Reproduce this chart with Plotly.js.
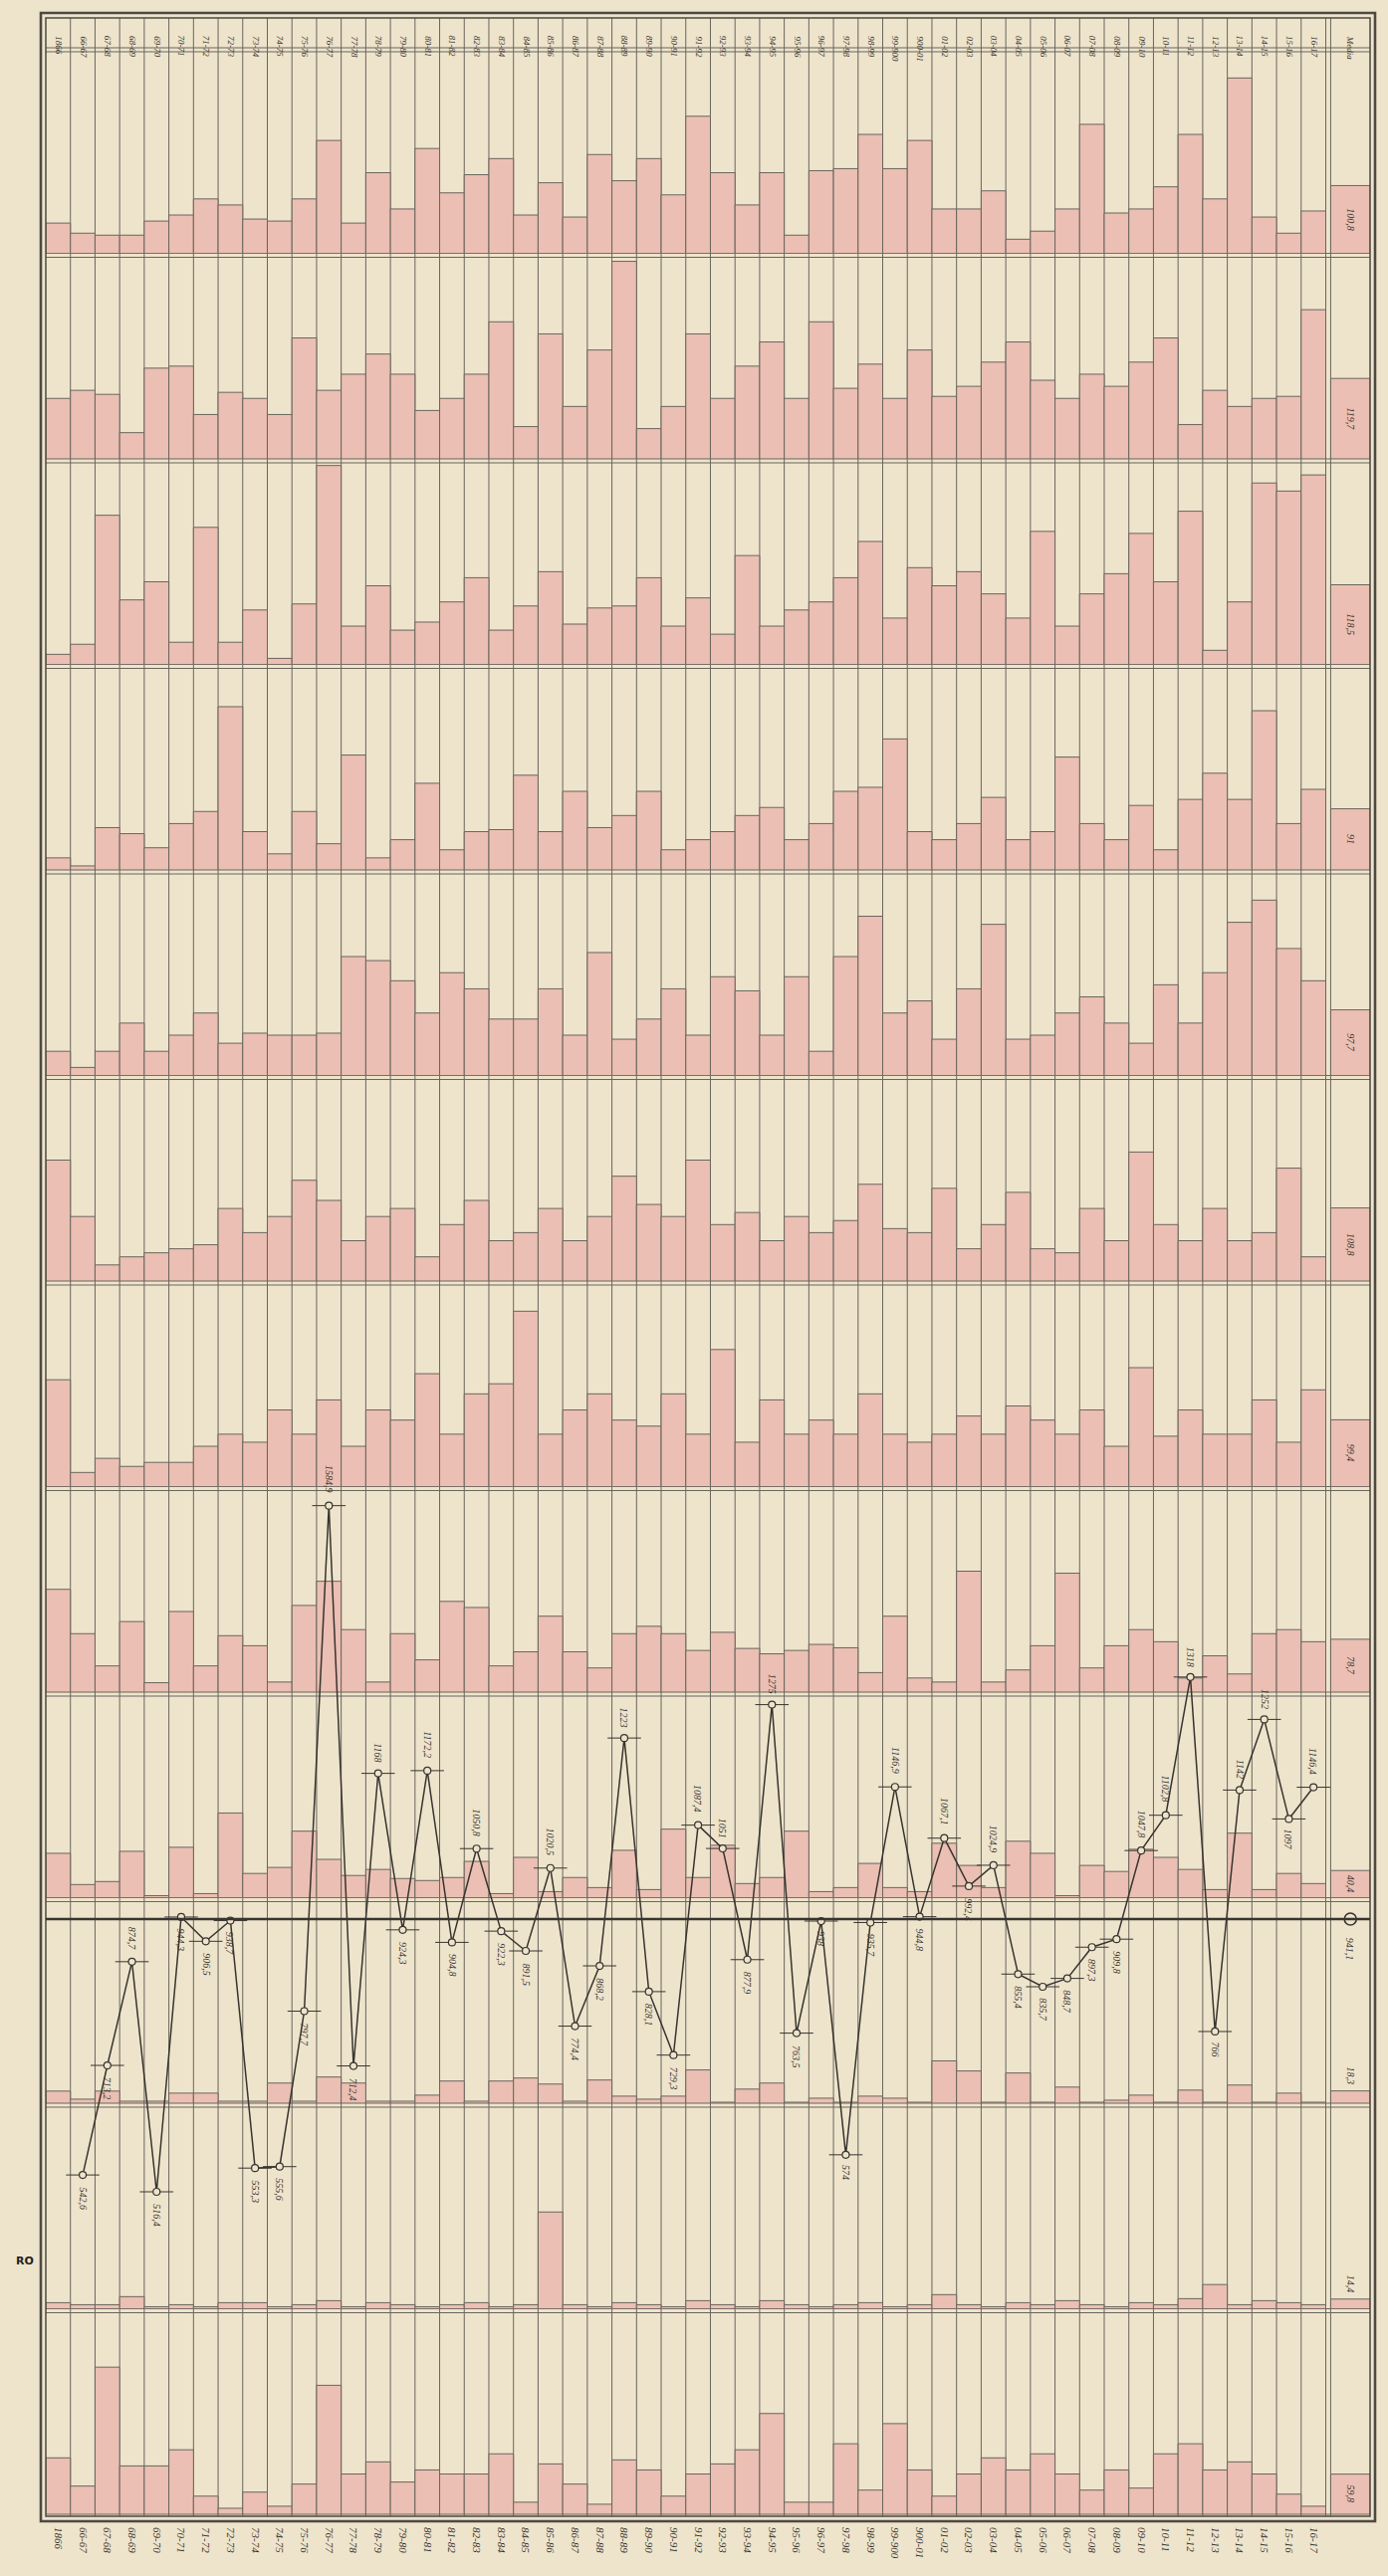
<!DOCTYPE html>
<html><head><meta charset="utf-8">
<script src="https://cdn.plot.ly/plotly-3.0.1.min.js"></script>
<style>html,body{margin:0;padding:0;background:#eee4cc;}#chart{width:1394px;height:2588px;}</style>
</head><body><div id="chart"></div>
<script>
// ---------- DATA (mm) ----------
const seasons = ["1866","66-67","67-68","68-69","69-70","70-71","71-72","72-73","73-74","74-75",
  "75-76","76-77","77-78","78-79","79-80","80-81","81-82","82-83","83-84","84-85",
  "85-86","86-87","87-88","88-89","89-90","90-91","91-92","92-93","93-94","94-95",
  "95-96","96-97","97-98","98-99","99-900","900-01","01-02","02-03","03-04","04-05",
  "05-06","06-07","07-08","08-09","09-10","10-11","11-12","12-13","13-14","14-15",
  "15-16","16-17"];
const meanHeader = "Media";

const strip1 = [45,30,27,27,48,57,81,72,51,48, 81,168,45,120,66,156,90,117,141,57, 105,54,147,108,141,87,204,120,72,120, 27,123,126,177,126,168,66,66,93,21, 33,66,192,60,66,99,177,81,261,54, 30,63];
const strip2 = [90,102,96,39,135,138,66,99,90,66, 180,102,126,156,126,72,90,126,204,48, 186,78,162,294,45,78,186,90,138,174, 90,204,105,141,90,162,93,108,144,174, 117,90,126,108,144,180,51,102,78,90, 93,222];
const strip3 = [15,30,222,96,123,33,204,33,81,9, 90,296,57,117,51,63,93,129,51,87, 138,60,84,87,129,57,99,45,162,57, 81,93,129,183,69,144,117,138,105,69, 198,57,105,135,195,123,228,21,93,270, 258,282];
const strip4 = [18,6,63,54,33,69,87,243,57,24, 87,39,171,18,45,129,30,57,60,141, 57,117,63,81,117,30,45,57,81,93, 45,69,117,123,195,57,45,69,108,45, 57,168,69,45,96,30,105,144,105,237, 69,120];
const strip5 = [36,12,36,78,36,60,93,48,63,60, 60,63,177,171,141,93,153,129,84,84, 129,60,183,54,84,129,60,147,126,60, 147,36,177,237,93,111,54,129,225,54, 60,93,117,78,48,135,78,153,228,261, 189,141];
const strip6 = [180,96,24,36,42,48,54,108,72,96, 150,120,60,96,108,36,84,120,60,72, 108,60,96,156,114,96,180,84,102,60, 96,72,90,144,78,72,138,48,84,132, 48,42,108,60,192,84,60,108,60,72, 168,36];
const strip7 = [159,21,42,30,36,36,60,78,66,114, 78,129,60,114,99,168,78,138,153,261, 78,114,138,99,90,138,78,204,66,129, 78,99,78,138,78,66,78,105,78,120, 99,78,114,60,177,75,114,78,78,129, 66,144];
const strip8 = [153,87,39,105,14,120,39,84,69,15, 129,165,93,15,87,48,135,126,39,60, 113,60,36,87,98,87,62,89,65,57, 62,71,66,29,113,21,15,180,15,33, 69,177,36,69,93,75,21,54,27,87, 93,75];
const strip9 = [66,19.5,24,69,3,75,6,126,36,45, 99,57,33,42,28.5,25.5,30,54,6,60, 9,30,15,70.5,12,102,30,78,21,30, 99,9,15,51,15,9,81,48,15,84, 66,3,48,39,72,60,42,12,96,12, 36,21];
const strip10 = [18,6,18,3,3,15,15,3,3,30, 3,39,30,3,3,12,33,3,33,37.5, 28.5,3,34.5,10.5,6,10.5,49.5,1.5,21,30, 1.5,7.5,1.5,10.5,7.5,1.5,63,48,1.5,45, 1.5,24,1.5,4.5,12,1.5,19.5,1.5,27,1.5, 15,1.5];
const strip11 = [9,6,6,18,3,6,3,9,9,3, 6,12,3,9,6,3,6,9,3,6, 144,6,3,9,6,3,12,6,3,12, 6,3,6,9,3,6,21,6,3,9, 6,12,6,3,9,6,15,36,6,12, 9,6];
const strip12 = [84,42,219,72,72,96,27,9,33,12, 45,192,60,78,48,66,60,60,90,18, 75,45,15,81,66,27,60,75,96,150, 18,18,105,36,135,66,27,60,84,66, 90,60,36,66,39,90,105,66,78,60, 30,12];
const stripMeans = [100.8,119.7,118.5,91.0,97.7,108.8,99.4,78.7,40.4,18.3,14.4,59.8];

const annualTotals = [null,542.6,713.2,874.7,516.4,944.3,906.5,938.7,553.3,555.6,
  797.7,1584.9,712.4,1168,924.3,1172.2,904.8,1050.8,922.3,891.5,
  1020.5,774.4,868.2,1223,828.1,729.3,1087.4,1051,877.9,1275,
  763.5,938,574,935.7,1146.9,944.8,1067.1,992.4,1024.9,855.4,
  835.7,848.7,897.3,909.8,1047.8,1102.8,1318,766,1142,1252,
  1097,1146.4];
const annualMean = 941.1;

// ---------- STYLE / GEOMETRY ----------
const strips = [strip1,strip2,strip3,strip4,strip5,strip6,strip7,strip8,strip9,strip10,strip11,strip12];
const PAPER = '#eee4cc', PINK = '#ebbfb3', INK = '#38342f', GRID = '#6a655d';
const FONT = 'Liberation Serif, DejaVu Serif, serif';
const L = 46, R = 18, T = 50, B = 60, W = 1394, H = 2588;
const PW = W - L - R, PH = H - T - B;
const fy = p => p / PH, fx = p => p / PW;
const headTop = 1 + fy(32);
const gap = fy(2);
const n = strips.length;
const meanX = 52.5, meanW = 1.6, xMin = -0.5, xMax = 53.3;
const idx = seasons.map((s, i) => i);
const fmt = v => Number.isInteger(v) ? String(v) : v.toFixed(1).replace('.', ',');
const STRIP_MAX = 300;
const mmPerPx = 1.55, meanLineFromTop = 1878;
const lineRange = [annualMean - (PH - meanLineFromTop) * mmPerPx, annualMean + meanLineFromTop * mmPerPx];

const traces = [];
const layout = {
  width: W, height: H, margin: {l: L, r: R, t: T, b: B},
  paper_bgcolor: PAPER, plot_bgcolor: 'rgba(0,0,0,0)',
  showlegend: false, barmode: 'overlay', hovermode: false,
  font: {family: FONT, color: INK},
  xaxis: {domain: [0, 1], range: [xMin, xMax], anchor: 'free', position: 0,
    tickmode: 'array', tickvals: idx, ticktext: seasons, tickangle: 90, ticklabelstandoff: 10,
    tickfont: {size: 11, family: FONT, color: INK, style: 'italic'},
    showgrid: false, zeroline: false, showline: false, ticks: '', fixedrange: true},
  shapes: [], annotations: []
};

strips.forEach((vals, k) => {
  const top = 1 - k / n, bot = 1 - (k + 1) / n;
  const yName = 'y' + (k + 1);
  layout['yaxis' + (k + 1)] = {domain: [bot + gap, top - gap], range: [0, STRIP_MAX], anchor: 'x', visible: false, fixedrange: true};
  traces.push({type: 'bar', x: idx, y: vals, width: 1, xaxis: 'x', yaxis: yName,
    marker: {color: PINK, line: {color: GRID, width: 1}}, hoverinfo: 'skip'});
  traces.push({type: 'bar', x: [meanX], y: [stripMeans[k]], width: [meanW], xaxis: 'x', yaxis: yName,
    marker: {color: PINK, line: {color: GRID, width: 1}}, hoverinfo: 'skip'});
  const m = stripMeans[k];
  layout.annotations.push({x: meanX, xref: 'x', y: m >= 40 ? m / 2 : m + 22, yref: yName,
    text: fmt(m), textangle: 90, showarrow: false,
    font: {size: 10, family: FONT, color: INK, style: 'italic'}});
});

layout.yaxis13 = {domain: [0, 1], range: lineRange, anchor: 'x', visible: false, fixedrange: true};

for (let k = 0; k <= n; k++) {
  const yb = 1 - k / n;
  [yb - gap, yb + gap].forEach(y => {
    if (y < 0 || y > headTop) return;
    layout.shapes.push({type: 'line', xref: 'paper', yref: 'paper', x0: 0, x1: 1, y0: y, y1: y,
      line: {color: GRID, width: 1}, layer: 'below'});
  });
}
const sepX = idx.map(i => i + 0.5).concat([meanX - meanW / 2]);
sepX.forEach(x => layout.shapes.push({type: 'line', xref: 'x', yref: 'paper', x0: x, x1: x, y0: 0, y1: headTop,
  line: {color: GRID, width: 1}, layer: 'below'}));
layout.shapes.push({type: 'rect', xref: 'paper', yref: 'paper', x0: 0, x1: 1, y0: 0, y1: headTop,
  line: {color: '#4d4943', width: 1.5}, layer: 'above'});
layout.shapes.push({type: 'rect', xref: 'paper', yref: 'paper', x0: -fx(5), x1: 1 + fx(5), y0: -fy(5), y1: headTop + fy(5),
  line: {color: '#4d4943', width: 2.6}, layer: 'above'});
layout.shapes.push({type: 'line', xref: 'paper', yref: 'y13', x0: 0, x1: 1, y0: annualMean, y1: annualMean,
  line: {color: INK, width: 2.4}, layer: 'above'});

seasons.forEach((s, i) => layout.annotations.push({x: i, xref: 'x', y: 1 + fy(16), yref: 'paper',
  text: s, textangle: 90, showarrow: false, font: {size: 9, family: FONT, color: INK, style: 'italic'}}));
layout.annotations.push({x: meanX, xref: 'x', y: 1 + fy(16), yref: 'paper', text: meanHeader, textangle: 90,
  showarrow: false, font: {size: 9, family: FONT, color: INK, style: 'italic'}});

traces.push({type: 'scatter', mode: 'markers', x: idx, y: annualTotals, xaxis: 'x', yaxis: 'y13',
  marker: {symbol: 'line-ew', size: 24, line: {color: INK, width: 1}}, hoverinfo: 'skip'});
traces.push({type: 'scatter', mode: 'lines+markers', x: idx, y: annualTotals, xaxis: 'x', yaxis: 'y13',
  line: {color: INK, width: 1.5}, marker: {symbol: 'circle', size: 7, color: PAPER, line: {color: INK, width: 1.2}},
  connectgaps: false, hoverinfo: 'skip'});
traces.push({type: 'scatter', mode: 'markers', x: [meanX], y: [annualMean], xaxis: 'x', yaxis: 'y13',
  marker: {symbol: 'circle', size: 12, color: PAPER, line: {color: INK, width: 1.6}}, hoverinfo: 'skip'});

annualTotals.forEach((v, i) => {
  if (v === null) return;
  const p = annualTotals[i - 1], q = annualTotals[i + 1];
  let above;
  if (Math.abs(v - annualMean) < 15) above = false;
  else if ((p == null || v > p) && (q == null || v > q)) above = true;
  else if ((p == null || v < p) && (q == null || v < q)) above = false;
  else above = v > annualMean;
  const t = fmt(v);
  const off = t.length * 2.9 + 9;
  layout.annotations.push({x: i, xref: 'x', y: v, yref: 'y13', yshift: above ? off : -off,
    text: t, textangle: 90, showarrow: false, font: {size: 10, family: FONT, color: INK, style: 'italic'}});
});
layout.annotations.push({x: meanX, xref: 'x', y: annualMean, yref: 'y13', yshift: -30,
  text: fmt(annualMean), textangle: 90, showarrow: false, font: {size: 10, family: FONT, color: INK, style: 'italic'}});

layout.annotations.push({x: -fx(32), xref: 'paper', y: fy(248), yref: 'paper', text: 'RO', showarrow: false,
  font: {size: 11, family: 'DejaVu Sans, sans-serif', color: '#222', weight: 'bold'}});

Plotly.newPlot('chart', traces, layout, {staticPlot: true, displayModeBar: false});
</script></body></html>
